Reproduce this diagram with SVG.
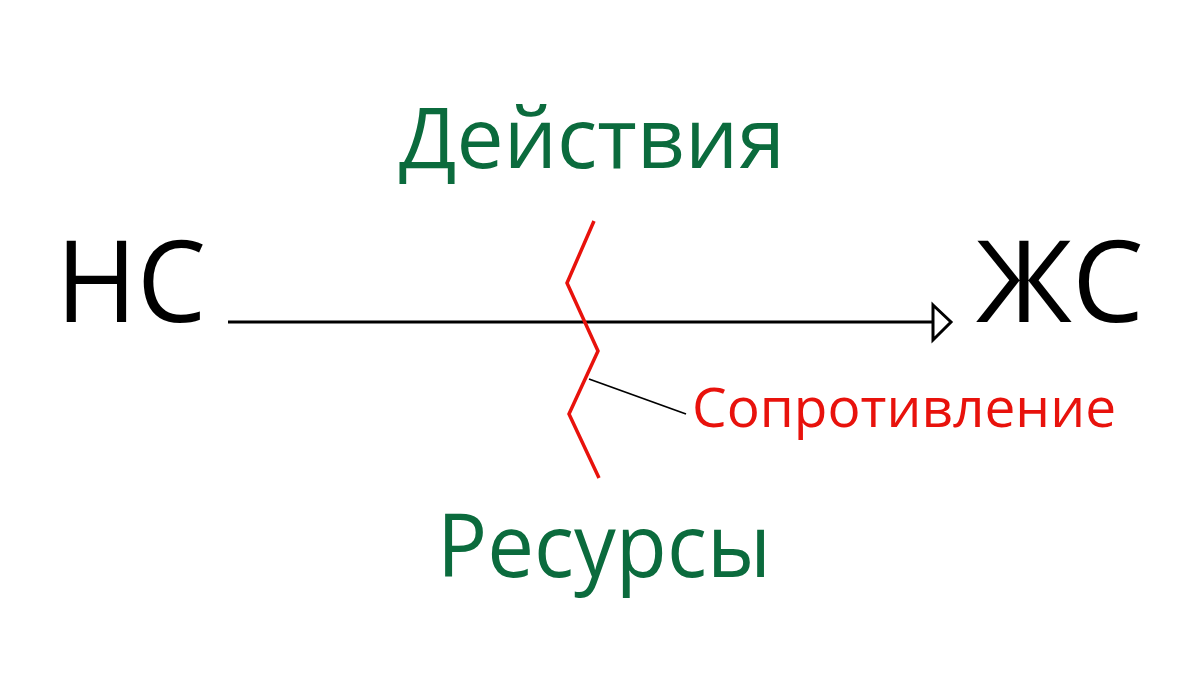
<svg xmlns="http://www.w3.org/2000/svg" width="1200" height="675" viewBox="0 0 1200 675">
<style>
.big{font-family:"Open Sans","Noto Sans",sans-serif;fill:#000}
.green{font-family:"Open Sans","Noto Sans",sans-serif;fill:#0b6b3d}
.red{font-family:"Open Sans","Noto Sans",sans-serif;fill:#e8120c}
</style>
<rect width="1200" height="675" fill="#fff"/>
<g id="connectors">
<line x1="228" y1="322" x2="933" y2="322" stroke="#000" stroke-width="3"/>
<polygon points="933,305 951,322 933,340" fill="#fff" stroke="#000" stroke-width="3" stroke-linejoin="miter"/>
<line x1="589" y1="379" x2="686" y2="414" stroke="#000" stroke-width="1.8"/>
</g>
<g id="resistance-line">
<polyline points="594,221 567,283 598,351 569,414 599,478" fill="none" stroke="#e8120c" stroke-width="3.5"/>
</g>
<g id="node-ns"><text class="big" x="56" y="322" font-size="114" textLength="150" lengthAdjust="spacingAndGlyphs">НС</text></g>
<g id="node-zhs"><text class="big" x="976" y="322" font-size="114">ЖС</text></g>
<g id="node-actions"><text class="green" x="592" y="168" font-size="84" text-anchor="middle">Действия</text></g>
<g id="node-resources"><text class="green" x="604" y="577" font-size="87" text-anchor="middle" textLength="334" lengthAdjust="spacingAndGlyphs">Ресурсы</text></g>
<g id="node-resistance"><text class="red" x="692" y="427" font-size="55">Сопротивление</text></g>
</svg>
